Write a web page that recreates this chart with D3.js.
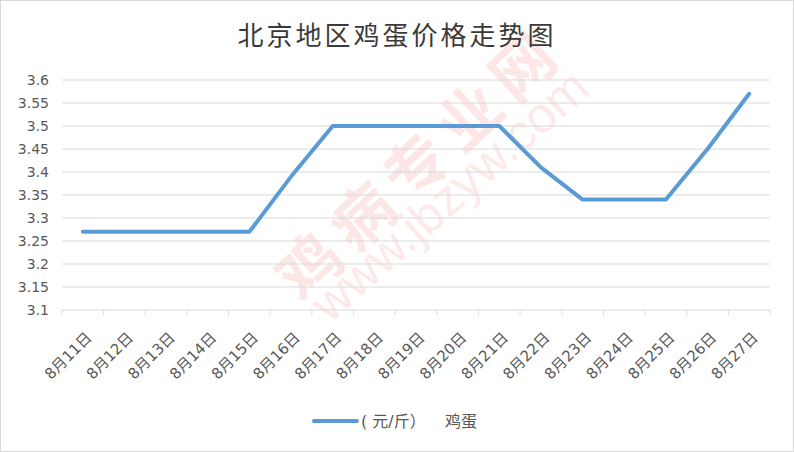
<!DOCTYPE html>
<html><head><meta charset="utf-8">
<script src="https://cdn.jsdelivr.net/npm/d3@7"></script>
<style>html,body{margin:0;padding:0;background:#fff;}</style>
</head><body>
<svg id="c" width="794" height="452"></svg>
<script>
const categories = ["8月11日","8月12日","8月13日","8月14日","8月15日","8月16日","8月17日","8月18日","8月19日","8月20日","8月21日","8月22日","8月23日","8月24日","8月25日","8月26日","8月27日"];
const eggPrices = [3.27,3.27,3.27,3.27,3.27,3.39,3.50,3.50,3.50,3.50,3.50,3.41,3.34,3.34,3.34,3.45,3.57];
const yTicks = [3.1,3.15,3.2,3.25,3.3,3.35,3.4,3.45,3.5,3.55,3.6];
const seriesUnit = "( 元/斤）";
const seriesName = "鸡蛋";
const title = "北京地区鸡蛋价格走势图";
const watermark = ["鸡病专业网","www.jbzyw.com"];

(function(){
const svg = d3.select("#c");
const W = 794, H = 452;
const font = "'DejaVu Sans','Noto Sans CJK SC',sans-serif";
const cjk = "'Noto Sans CJK SC',sans-serif";
svg.append("rect").attr("x",0.5).attr("y",0.5).attr("width",W-1).attr("height",H-1)
  .attr("fill","#fff").attr("stroke","#d9d9d9");

// watermark
const wm = svg.append("g").attr("pointer-events","none");
wm.append("text").attr("transform","translate(302,304) rotate(-43)")
  .attr("font-family",cjk).attr("font-size",62).attr("font-weight","bold")
  .attr("fill","#e8403a").attr("fill-opacity",0.13).attr("letter-spacing",11).text(watermark[0]);
wm.append("text").attr("transform","translate(330,324) rotate(-41.5)")
  .attr("font-family","'Liberation Sans',sans-serif").attr("font-size",50)
  .attr("fill","#e8403a").attr("fill-opacity",0.11).text(watermark[1]);

const pL = 62, pR = 770, pT = 80, pB = 310;
const x = d3.scaleBand().domain(categories).range([pL,pR]);
const y = d3.scaleLinear().domain([3.1,3.6]).range([pB,pT]);

svg.append("g").selectAll("line").data(yTicks.slice(1)).join("line")
  .attr("x1",pL).attr("x2",pR).attr("y1",d=>y(d)).attr("y2",d=>y(d))
  .attr("stroke","#d9d9d9").attr("stroke-width",1);

svg.append("g").selectAll("text").data(yTicks).join("text")
  .attr("x",49).attr("y",d=>y(d)).attr("dy","0.36em").attr("text-anchor","end")
  .attr("font-family",font).attr("font-size",14).attr("fill","#595959")
  .text(d=>String(+d.toFixed(2)));

const xa = svg.append("g").attr("transform",`translate(0,${pB})`);
xa.append("line").attr("x1",pL).attr("x2",pR).attr("stroke","#d9d9d9");
const bounds = categories.map(c=>x(c)).concat([pR]);
xa.selectAll("line.t").data(bounds).join("line").attr("class","t")
  .attr("x1",d=>d).attr("x2",d=>d).attr("y1",0).attr("y2",5).attr("stroke","#d9d9d9");
xa.selectAll("text").data(categories).join("text")
  .attr("transform",d=>`translate(${x(d)+x.bandwidth()/2+6},${25}) rotate(-45)`)
  .attr("text-anchor","end").attr("dy","0.35em")
  .attr("font-family",font).attr("font-size",15).attr("fill","#595959")
  .text(d=>d);

const line = d3.line().x((d,i)=>x(categories[i])+x.bandwidth()/2).y(d=>y(d));
svg.append("path").datum(eggPrices).attr("d",line).attr("fill","none")
  .attr("stroke","#5b9bd5").attr("stroke-width",4).attr("stroke-linejoin","round").attr("stroke-linecap","round");

svg.append("text").attr("x",397).attr("y",45).attr("text-anchor","middle")
  .attr("font-family",cjk).attr("font-size",26).attr("fill","#3a3a3a")
  .attr("letter-spacing",3).text(title);

svg.append("line").attr("x1",314).attr("x2",357).attr("y1",421).attr("y2",421)
  .attr("stroke","#5b9bd5").attr("stroke-width",4).attr("stroke-linecap","round");
const lt = svg.append("text").attr("y",421).attr("dy","0.36em")
  .attr("font-family",font).attr("font-size",16).attr("fill","#595959");
lt.append("tspan").attr("x",361).text(seriesUnit);
lt.append("tspan").attr("x",445).text(seriesName);
})();
</script>
</body></html>
